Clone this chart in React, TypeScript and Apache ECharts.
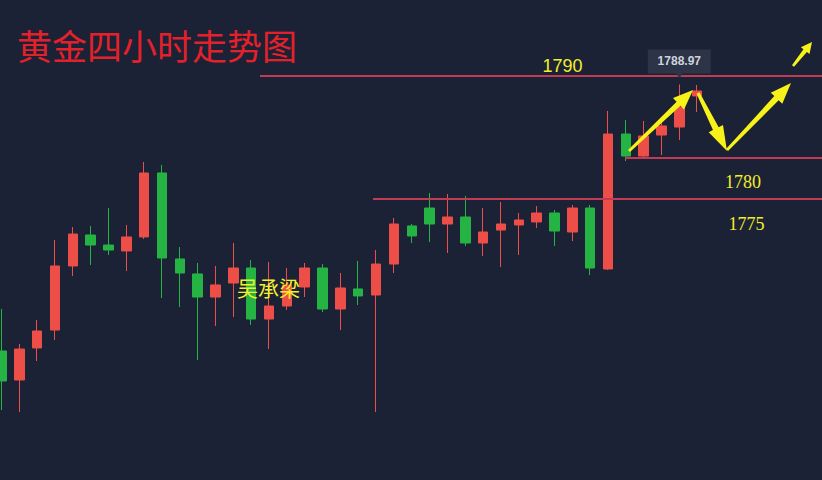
import React, { useEffect, useRef } from "react";
import * as echarts from "echarts";

// ---- data ----
const categories: string[] = Array.from({ length: 47 }, (_, i) => `K${i + 1}`);

// [open, close, low, high]
const candles: number[][] = [
  [1756.26, 1752.58, 1749.02, 1761.41],
  [1752.7, 1756.5, 1748.77, 1757.12],
  [1756.63, 1758.71, 1755.03, 1760.06],
  [1758.83, 1766.69, 1757.61, 1769.88],
  [1766.69, 1770.61, 1765.46, 1771.47],
  [1770.49, 1769.26, 1766.81, 1771.6],
  [1769.26, 1768.65, 1768.04, 1773.8],
  [1768.53, 1770.25, 1766.07, 1771.72],
  [1770.25, 1778.1, 1770.0, 1779.45],
  [1778.1, 1767.67, 1762.76, 1779.08],
  [1767.55, 1765.83, 1761.66, 1769.02],
  [1765.71, 1762.88, 1755.15, 1767.06],
  [1762.88, 1764.36, 1759.33, 1766.69],
  [1764.6, 1766.44, 1760.43, 1769.51],
  [1766.44, 1760.18, 1759.45, 1767.42],
  [1760.18, 1761.78, 1756.5, 1767.18],
  [1761.78, 1764.36, 1761.29, 1766.44],
  [1764.11, 1766.44, 1762.88, 1767.06],
  [1766.44, 1761.41, 1761.04, 1766.93],
  [1761.41, 1763.99, 1758.83, 1765.83],
  [1763.87, 1763.01, 1761.9, 1767.3],
  [1763.13, 1766.93, 1748.77, 1768.65],
  [1766.93, 1771.84, 1765.83, 1772.58],
  [1771.6, 1770.37, 1769.51, 1771.84],
  [1773.8, 1771.84, 1769.63, 1775.64],
  [1771.84, 1772.7, 1768.28, 1775.52],
  [1772.7, 1769.51, 1769.14, 1775.28],
  [1769.51, 1770.86, 1767.91, 1773.8],
  [1771.1, 1771.84, 1766.56, 1774.54],
  [1771.72, 1772.33, 1768.04, 1773.19],
  [1772.09, 1773.19, 1771.35, 1774.05],
  [1773.19, 1770.98, 1769.14, 1773.56],
  [1770.86, 1773.8, 1769.75, 1774.17],
  [1773.8, 1766.44, 1765.58, 1774.17],
  [1766.32, 1782.88, 1766.2, 1785.71],
  [1782.88, 1780.18, 1779.57, 1784.6],
  [1780.18, 1782.64, 1780.06, 1784.48],
  [1782.76, 1783.87, 1780.31, 1784.48],
  [1783.74, 1786.2, 1782.15, 1788.97],
  [1787.55, 1788.16, 1785.58, 1788.9],
];

const levels: number[] = [1790, 1780, 1775];
const levelLabels: string[] = ["1790", "1780", "1775"];
const markedIndex = 38;
const markedPrice = 1788.97;
const titleText = "黄金四小时走势图";
const authorText = "吴承梁";

// ---- styles ----
const BG = "#1b2235";
const UP = "#ee4e48";
const DOWN = "#25b444";
const LEVEL_COLOR = "#c23b55";
const YELLOW = "#f4ef2a";

function arrowPoints(
  tail: number[],
  tip: number[],
  tailHalf: number,
  shaftHalf: number,
  headLen: number,
  headHalf: number
): number[][] {
  const dx = tip[0] - tail[0];
  const dy = tip[1] - tail[1];
  const L = Math.hypot(dx, dy);
  const ux = dx / L;
  const uy = dy / L;
  const nx = -uy;
  const ny = ux;
  const bx = tip[0] - ux * headLen;
  const by = tip[1] - uy * headLen;
  return [
    [tail[0] + nx * tailHalf, tail[1] + ny * tailHalf],
    [bx + nx * shaftHalf, by + ny * shaftHalf],
    [bx + nx * headHalf, by + ny * headHalf],
    [tip[0], tip[1]],
    [bx - nx * headHalf, by - ny * headHalf],
    [bx - nx * shaftHalf, by - ny * shaftHalf],
    [tail[0] - nx * tailHalf, tail[1] - ny * tailHalf],
  ];
}

export default function App() {
  const ref = useRef<HTMLDivElement>(null);

  useEffect(() => {
    if (!ref.current) return;
    const chart = echarts.init(ref.current, undefined, { renderer: "svg" });

    const lineStarts = [260, 625, 373];
    const arrows = [
      arrowPoints([629, 151], [693, 90], 1.4, 2.8, 20, 8),
      arrowPoints([698, 93], [727, 151], 1.6, 3.2, 25, 8),
      arrowPoints([727, 150], [791, 83], 1.4, 3, 21, 8),
      arrowPoints([793, 66], [812, 42], 1.3, 2.2, 11, 5.5),
    ];

    chart.setOption({
      animation: false,
      backgroundColor: BG,
      grid: { left: 1.5, right: 0, top: 10.8, bottom: 12.8 },
      xAxis: {
        type: "category",
        data: categories,
        boundaryGap: false,
        show: false,
      },
      yAxis: {
        type: "value",
        min: 1742,
        max: 1798,
        show: false,
        splitLine: { show: false },
      },
      series: [
        {
          type: "candlestick",
          data: candles,
          barWidth: 10,
          itemStyle: {
            color: UP,
            color0: DOWN,
            borderColor: UP,
            borderColor0: DOWN,
            borderWidth: 1,
          },
          markLine: {
            silent: true,
            symbol: ["none", "none"],
            label: { show: false },
            lineStyle: { color: LEVEL_COLOR, width: 2.2, type: "solid" },
            data: levels.map((v, i) => [
              { x: lineStarts[i], yAxis: v },
              { x: 822, yAxis: v },
            ]),
          },
          markPoint: {
            silent: true,
            data: [
              {
                coord: [categories[markedIndex], markedPrice],
                symbol: "rect",
                symbolSize: [63, 24],
                symbolOffset: [0, -23],
                itemStyle: { color: "#2d3447" },
                label: {
                  show: true,
                  position: "inside",
                  formatter: markedPrice.toFixed(2),
                  color: "#cfd3dc",
                  fontSize: 12,
                  fontWeight: "bold",
                  fontFamily: "Liberation Sans, Arial, sans-serif",
                },
              },
              {
                coord: [categories[markedIndex], markedPrice],
                symbol: "triangle",
                symbolRotate: 180,
                symbolSize: [8, 5],
                symbolOffset: [0, -9],
                itemStyle: { color: "#2d3447" },
                label: { show: false },
              },
            ],
          },
        },
      ],
      graphic: [
        {
          type: "text",
          left: 17,
          top: 27,
          z: 100,
          style: {
            text: titleText,
            fill: "#e3212b",
            fontSize: 35,
            fontFamily: "Noto Sans CJK SC, sans-serif",
          },
        },
        {
          type: "text",
          x: 237,
          y: 287,
          z: 100,
          style: {
            text: authorText,
            fill: YELLOW,
            fontSize: 21,
            fontFamily: "Noto Sans CJK SC, sans-serif",
            verticalAlign: "middle",
            align: "left",
          },
        },
        {
          type: "text",
          x: 562.5,
          y: 66,
          z: 100,
          style: {
            text: levelLabels[0],
            fill: YELLOW,
            fontSize: 18,
            fontFamily: "Liberation Sans, Arial, sans-serif",
            align: "center",
            verticalAlign: "middle",
          },
        },
        {
          type: "text",
          x: 743,
          y: 182,
          z: 100,
          style: {
            text: levelLabels[1],
            fill: YELLOW,
            fontSize: 18,
            fontFamily: "Liberation Serif, serif",
            align: "center",
            verticalAlign: "middle",
          },
        },
        {
          type: "text",
          x: 746.5,
          y: 224,
          z: 100,
          style: {
            text: levelLabels[2],
            fill: YELLOW,
            fontSize: 18,
            fontFamily: "Liberation Serif, serif",
            align: "center",
            verticalAlign: "middle",
          },
        },
        ...arrows.map((pts) => ({
          type: "polygon",
          z: 100,
          shape: { points: pts },
          style: { fill: "#f6f21a" },
        })),
      ],
    });

    return () => chart.dispose();
  }, []);

  return (
    <div
      ref={ref}
      style={{
        position: "fixed",
        left: 0,
        top: 0,
        width: 822,
        height: 480,
        background: BG,
      }}
    />
  );
}
